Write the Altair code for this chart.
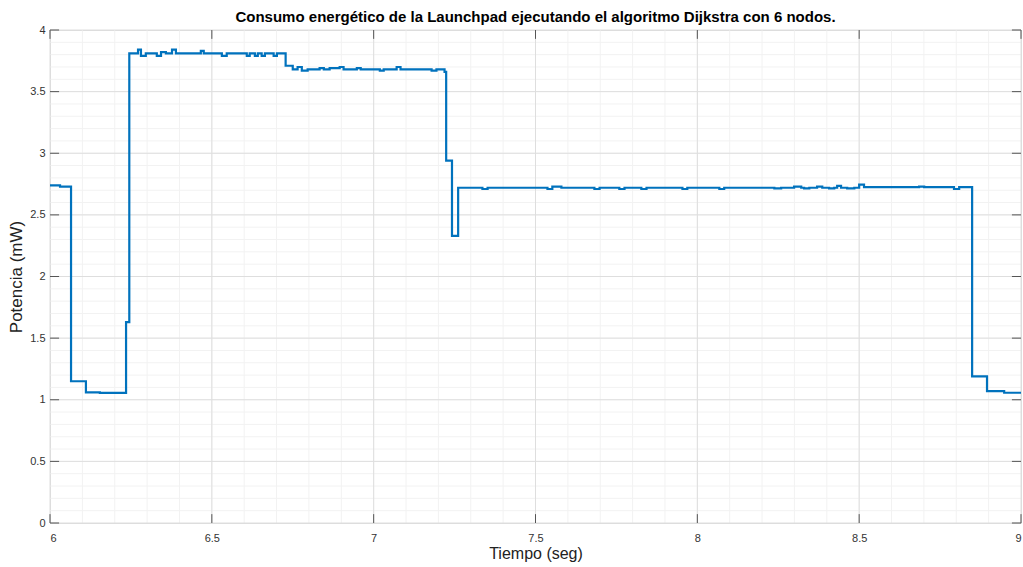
import altair as alt
import pandas as pd

# Step-wise power trace (time in s, power in mW); each value holds until the next time
time_s = [6.000, 6.031, 6.065, 6.111, 6.154, 6.235, 6.245,
          6.272, 6.281, 6.296, 6.330, 6.343, 6.358, 6.377, 6.389, 6.466, 6.475,
          6.531, 6.546, 6.608, 6.617, 6.633, 6.642, 6.654, 6.664, 6.691, 6.701,
          6.728, 6.750, 6.765, 6.778, 6.796, 6.833, 6.846, 6.864, 6.895, 6.907,
          6.948, 6.960, 7.019, 7.031, 7.071, 7.083, 7.179, 7.194, 7.219,
          7.224, 7.242, 7.261,
          7.336, 7.352, 7.537, 7.552, 7.580, 7.682, 7.698, 7.759, 7.775,
          7.827, 7.843, 7.954, 7.969, 8.068, 8.083, 8.238, 8.259, 8.299, 8.321,
          8.330, 8.346, 8.370, 8.386, 8.407, 8.423, 8.432, 8.444, 8.463, 8.485,
          8.500, 8.515, 8.685, 8.701, 8.793, 8.809,
          8.849, 8.895, 8.948, 9.000]
power_mw = [2.74, 2.73, 1.15, 1.06, 1.055, 1.63, 3.81,
            3.84, 3.79, 3.81, 3.79, 3.82, 3.81, 3.84, 3.81, 3.83, 3.81,
            3.79, 3.81, 3.79, 3.81, 3.79, 3.81, 3.79, 3.81, 3.79, 3.81,
            3.71, 3.68, 3.70, 3.67, 3.68, 3.69, 3.68, 3.69, 3.70, 3.68,
            3.69, 3.68, 3.67, 3.68, 3.70, 3.68, 3.67, 3.68, 3.66,
            2.94, 2.33, 2.72,
            2.71, 2.72, 2.71, 2.73, 2.72, 2.71, 2.72, 2.71, 2.72,
            2.71, 2.72, 2.71, 2.72, 2.71, 2.72, 2.715, 2.72, 2.73, 2.72,
            2.715, 2.72, 2.73, 2.72, 2.715, 2.72, 2.735, 2.72, 2.715, 2.72,
            2.745, 2.725, 2.73, 2.725, 2.71, 2.725,
            1.19, 1.07, 1.057, 1.057]

x_ticks = [6, 6.5, 7, 7.5, 8, 8.5, 9]
y_ticks = [0, 0.5, 1, 1.5, 2, 2.5, 3, 3.5, 4]
x_minor = [round(6 + 0.1 * i, 2) for i in range(1, 30)]
y_minor = [round(0.1 * i, 2) for i in range(1, 40)]

FONT = "Liberation Sans"
XS = alt.Scale(domain=[6, 9], nice=False, zero=False)
YS = alt.Scale(domain=[0, 4], nice=False, zero=False)

XAX = alt.Axis(values=x_ticks, labelExpr="'' + datum.value", title="Tiempo (seg)",
               grid=False, domain=False, ticks=False, labelPadding=9,
               labelFontSize=11, labelColor="#333333", labelFont=FONT,
               titleFont=FONT, titleFontSize=16, titleFontWeight="normal",
               titleColor="#222222", titlePadding=2)
YAX = alt.Axis(values=y_ticks, labelExpr="'' + datum.value", title="Potencia (mW)",
               grid=False, domain=False, ticks=False, labelPadding=5,
               labelFontSize=11, labelColor="#333333", labelFont=FONT,
               titleFont=FONT, titleFontSize=17, titleFontWeight="normal",
               titleColor="#222222", titlePadding=4)

df = pd.DataFrame({"t": time_s, "p": power_mw})

minor_x = alt.Chart(pd.DataFrame({"v": x_minor})).mark_rule(
    color="#f2f2f2", strokeWidth=1
).encode(x=alt.X("v:Q", scale=XS, axis=XAX))
minor_y = alt.Chart(pd.DataFrame({"v": y_minor})).mark_rule(
    color="#f2f2f2", strokeWidth=1
).encode(y=alt.Y("v:Q", scale=YS, axis=YAX))

major_x = alt.Chart(pd.DataFrame({"v": x_ticks})).mark_rule(
    color="#dedede", strokeWidth=1
).encode(x=alt.X("v:Q", scale=XS, axis=XAX))
major_y = alt.Chart(pd.DataFrame({"v": y_ticks})).mark_rule(
    color="#dedede", strokeWidth=1
).encode(y=alt.Y("v:Q", scale=YS, axis=YAX))

# inward ticks (MATLAB style) on all four sides
tk = pd.DataFrame({"v": x_ticks})
tick_bottom = alt.Chart(tk).mark_rule(color="#555555").encode(
    x=alt.X("v:Q", scale=XS, axis=XAX), y=alt.datum(0, scale=YS, axis=YAX), y2=alt.datum(0.072))
tick_top = alt.Chart(tk).mark_rule(color="#555555").encode(
    x=alt.X("v:Q", scale=XS, axis=XAX), y=alt.datum(4, scale=YS, axis=YAX), y2=alt.datum(3.928))
tky = pd.DataFrame({"v": y_ticks})
tick_left = alt.Chart(tky).mark_rule(color="#555555").encode(
    y=alt.Y("v:Q", scale=YS, axis=YAX), x=alt.datum(6, scale=XS, axis=XAX), x2=alt.datum(6.028))
tick_right = alt.Chart(tky).mark_rule(color="#555555").encode(
    y=alt.Y("v:Q", scale=YS, axis=YAX), x=alt.datum(9, scale=XS, axis=XAX), x2=alt.datum(8.972))

line = alt.Chart(df).mark_line(
    interpolate="step-after", color="#0072BD", strokeWidth=2.2
).encode(
    x=alt.X("t:Q", scale=XS, axis=XAX),
    y=alt.Y("p:Q", scale=YS, axis=YAX),
)

chart = alt.layer(
    minor_x, minor_y, major_x, major_y, line,
    tick_bottom, tick_top, tick_left, tick_right
).properties(
    width=971, height=493,
    title=alt.TitleParams(
        "Consumo energético de la Launchpad ejecutando el algoritmo Dijkstra con 6 nodos.",
        font=FONT, fontSize=15, fontWeight="bold", color="#000000",
        anchor="middle", offset=-1),
    autosize=alt.AutoSizeParams(type="none"),
    padding={"left": 50, "top": 30, "right": 2, "bottom": 44},
).configure_view(
    stroke="#555555", strokeWidth=1
).configure(background="white")

chart.save("out.html", embed_options={"renderer": "svg", "actions": False})
